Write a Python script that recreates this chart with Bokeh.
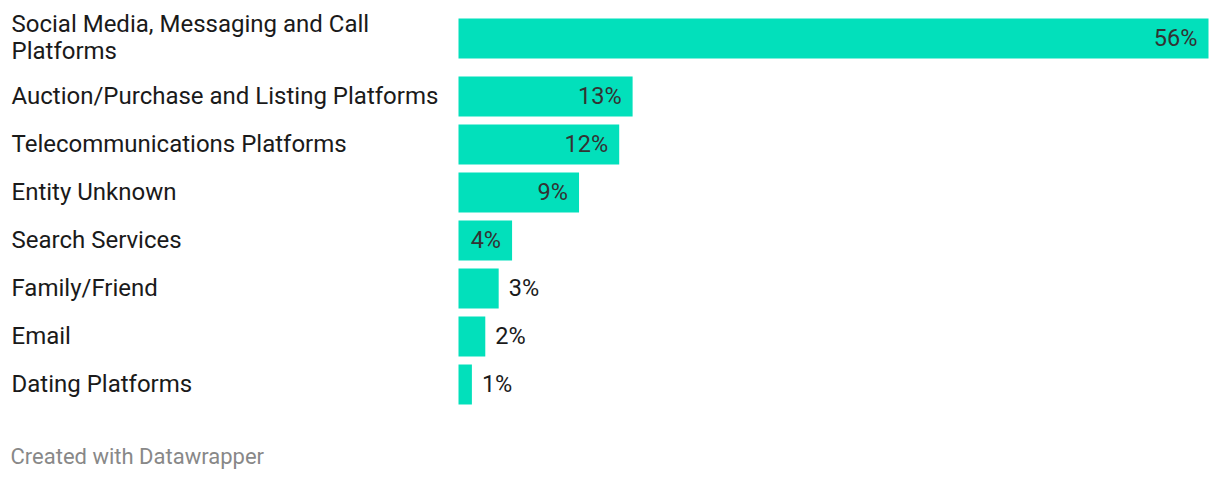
from bokeh.plotting import figure
from bokeh.models import Range1d, ColumnDataSource
from bokeh.core.properties import value
from bokeh.embed import file_html
from bokeh.resources import INLINE

categories = [
    "Social Media, Messaging and Call\nPlatforms",
    "Auction/Purchase and Listing Platforms",
    "Telecommunications Platforms",
    "Entity Unknown",
    "Search Services",
    "Family/Friend",
    "Email",
    "Dating Platforms",
]
values = [56, 13, 12, 9, 4, 3, 2, 1]
value_labels = ["56%", "13%", "12%", "9%", "4%", "3%", "2%", "1%"]
footer = "Created with Datawrapper"

# layout (pixels)
W, H = 1216, 472
bar_x0 = 458          # bar start within figure
bar_px = 750          # pixel length of largest bar
bar_h = 40
pitch = 48
extra_two_line = 10
first_center = 38

k = max(values) / bar_px
x_range = Range1d(-bar_x0 * k, (W - bar_x0) * k)

centers = []
y = first_center
for c in categories:
    centers.append(y)
    y += pitch + (extra_two_line if "\n" in c else 0)

inside = [v >= 4 for v in values]

p = figure(width=W, height=H, output_backend="svg", toolbar_location=None,
           x_range=x_range, y_range=Range1d(H, 0),
           min_border=0, min_border_left=0, min_border_right=0,
           min_border_top=0, min_border_bottom=0)
p.extra_x_ranges = {"px": Range1d(0, W)}
p.axis.visible = False
p.grid.visible = False
p.outline_line_color = None
p.background_fill_color = "white"
p.border_fill_color = "white"

src = ColumnDataSource(dict(cat=categories, val=values, lab=value_labels, y=centers,
                            lx=[11] * len(categories)))
p.hbar(y="y", left=0, right="val", height=bar_h, source=src,
       fill_color="#02e0bb", line_color=None)

p.text(x="lx", y="y", text="cat", source=src, x_range_name="px", y_offset=-1,
       text_font=value("Roboto"), text_font_size="24px", text_color="#1a1a1a",
       text_align="left", text_baseline="middle", text_line_height=0.97)

ins = ColumnDataSource(dict(x=[v for v, i in zip(values, inside) if i],
                            y=[c for c, i in zip(centers, inside) if i],
                            t=[l for l, i in zip(value_labels, inside) if i]))
outs = ColumnDataSource(dict(x=[v for v, i in zip(values, inside) if not i],
                             y=[c for c, i in zip(centers, inside) if not i],
                             t=[l for l, i in zip(value_labels, inside) if not i]))
p.text(x="x", y="y", text="t", source=ins, x_offset=-11, y_offset=-1,
       text_font=value("Roboto"), text_font_size="23.5px", text_color="#333333",
       text_align="right", text_baseline="middle")
p.text(x="x", y="y", text="t", source=outs, x_offset=10, y_offset=-1,
       text_font=value("Roboto"), text_font_size="23.5px", text_color="#1a1a1a",
       text_align="left", text_baseline="middle")

p.text(x=[10], y=[456], text=[footer], x_range_name="px",
       text_font=value("Roboto"), text_font_size="22px", text_color="#888888",
       text_align="left", text_baseline="middle")

open("out.html", "w").write(file_html(p, INLINE))
